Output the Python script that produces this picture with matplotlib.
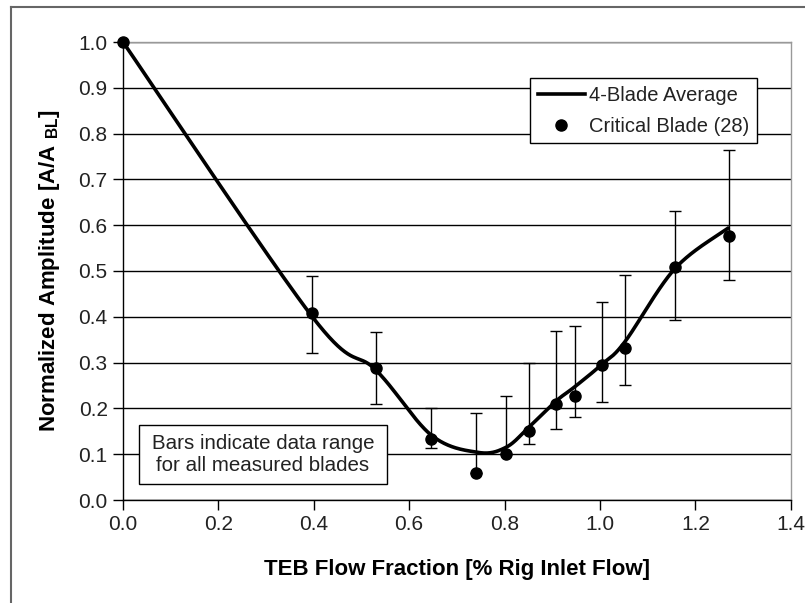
import numpy as np
import matplotlib
matplotlib.use("Agg")
import matplotlib.pyplot as plt
from matplotlib.lines import Line2D
from matplotlib.patches import Rectangle

plt.rcParams['font.family'] = ['Liberation Sans', 'DejaVu Sans']
plt.rcParams['mathtext.fontset'] = 'custom'
plt.rcParams['mathtext.rm'] = 'Liberation Sans'
plt.rcParams['mathtext.bf'] = 'Liberation Sans:bold'

# Critical blade (28) data
crit_x = [0.0, 0.397, 0.530, 0.646, 0.740, 0.803, 0.852, 0.908, 0.947, 1.004, 1.052, 1.157, 1.271]
crit_y = [1.0, 0.409, 0.289, 0.134, 0.060, 0.100, 0.150, 0.210, 0.228, 0.295, 0.331, 0.508, 0.577]
# Data range bars (min / max over all measured blades)
range_lo = [1.0, 0.322, 0.209, 0.113, 0.060, 0.100, 0.123, 0.155, 0.181, 0.214, 0.251, 0.394, 0.480]
range_hi = [1.0, 0.490, 0.366, 0.201, 0.190, 0.227, 0.300, 0.368, 0.381, 0.432, 0.491, 0.630, 0.765]

# 4-blade average
avg_x = [0.0, 0.397, 0.530, 0.646, 0.744, 0.803, 0.852, 0.908, 0.947, 1.004, 1.052, 1.157, 1.268]
avg_y = [1.0, 0.400, 0.284, 0.142, 0.104, 0.115, 0.160, 0.216, 0.247, 0.296, 0.345, 0.505, 0.593]

x_ticks = [0.0, 0.2, 0.4, 0.6, 0.8, 1.0, 1.2, 1.4]
y_ticks = [0.0, 0.1, 0.2, 0.3, 0.4, 0.5, 0.6, 0.7, 0.8, 0.9, 1.0]


def excel_smooth(xs, ys, n=40):
    P = np.column_stack([xs, ys]).astype(float)
    m = len(P)
    out = [P[0]]
    t = np.linspace(0, 1, n)[1:, None]
    for i in range(m - 1):
        p0 = P[i - 1] if i > 0 else P[i]
        p1 = P[i]
        p2 = P[i + 1]
        p3 = P[i + 2] if i + 2 < m else P[i + 1]
        b1 = p1 + (p2 - p0) / 6.0
        b2 = p2 - (p3 - p1) / 6.0
        seg = ((1 - t) ** 3) * p1 + 3 * ((1 - t) ** 2) * t * b1 + 3 * (1 - t) * t ** 2 * b2 + t ** 3 * p2
        out.extend(seg)
    out = np.array(out)
    return out[:, 0], out[:, 1]


W, H = 805, 603
AX_L, AX_R, AX_T, AX_B = 123, 790.7, 42, 500
fig = plt.figure(figsize=(8.05, 6.03), dpi=100)
ax = fig.add_axes([AX_L / W, 1 - AX_B / H, (AX_R - AX_L) / W, (AX_B - AX_T) / H])


def ax_xy(px, py):
    return (px - AX_L) / (AX_R - AX_L), (AX_B - py) / (AX_B - AX_T)


ax.set_xlim(0, 1.4)
ax.set_ylim(0, 1.0)
ax.set_xticks(x_ticks)
ax.set_yticks(y_ticks)
ax.set_xticklabels([f"{v:.1f}" for v in x_ticks])
ax.set_yticklabels([f"{v:.1f}" for v in y_ticks])
ax.tick_params(direction='out', length=7, width=1, colors='black', labelsize=15, labelcolor='#222222', pad=4)
ax.grid(axis='y', color='black', linewidth=1)
ax.set_axisbelow(True)
for s in ['left', 'bottom']:
    ax.spines[s].set_color('black')
    ax.spines[s].set_linewidth(1)
for s in ['top', 'right']:
    ax.spines[s].set_color('#999999')
    ax.spines[s].set_linewidth(1)

cx = np.array(crit_x)
cy = np.array(crit_y)
yerr = np.vstack([cy - np.array(range_lo), np.array(range_hi) - cy])
ax.errorbar(cx[1:], cy[1:], yerr=yerr[:, 1:], fmt='none', ecolor='black', elinewidth=1,
            capsize=4, capthick=1, zorder=3)

sx, sy = excel_smooth(avg_x, avg_y)
ax.plot(sx, sy, color='black', linewidth=2.6, zorder=4, label='4-Blade Average', clip_on=False)
ax.plot(cx, cy, 'o', color='black', markersize=8, zorder=5, label='Critical Blade (28)', clip_on=False)

leg = ax.legend(loc='upper left', bbox_to_anchor=ax_xy(530, 78),
                frameon=True, fancybox=False, edgecolor='black', framealpha=1, fontsize=14.5,
                handlelength=2.35, handletextpad=0.2, borderpad=0.38, labelspacing=0.6, borderaxespad=0)
leg.get_frame().set_linewidth(1)
leg.set_zorder(7)
for t in leg.get_texts():
    t.set_color('#222222')

# note box
x0, y1 = ax_xy(139, 425)
x1, y0 = ax_xy(387, 484)
ax.add_patch(Rectangle((x0, y0), x1 - x0, y1 - y0, transform=ax.transAxes,
                       facecolor='white', edgecolor='black', linewidth=1, zorder=6))
ax.text((x0 + x1) / 2, (y0 + y1) / 2,
        'Bars indicate data range\nfor all measured blades', transform=ax.transAxes,
        ha='center', va='center', fontsize=14.8, color='#222222', linespacing=1.15, zorder=7)

ax.set_xlabel('TEB Flow Fraction [% Rig Inlet Flow]', fontsize=16, fontweight='bold', labelpad=18)
ax.set_ylabel(r'Normalized Amplitude [A/A $_{\mathbf{BL}}$]', fontsize=16, fontweight='bold', labelpad=12)

# outer chart-area frame
fig.add_artist(Line2D([11 / W, 11 / W], [0, 1 - 7 / H], transform=fig.transFigure,
                      color='#666666', linewidth=1.5))
fig.add_artist(Line2D([11 / W, 1], [1 - 7 / H, 1 - 7 / H], transform=fig.transFigure,
                      color='#666666', linewidth=1.5))

fig.savefig('out.png', dpi=100)
